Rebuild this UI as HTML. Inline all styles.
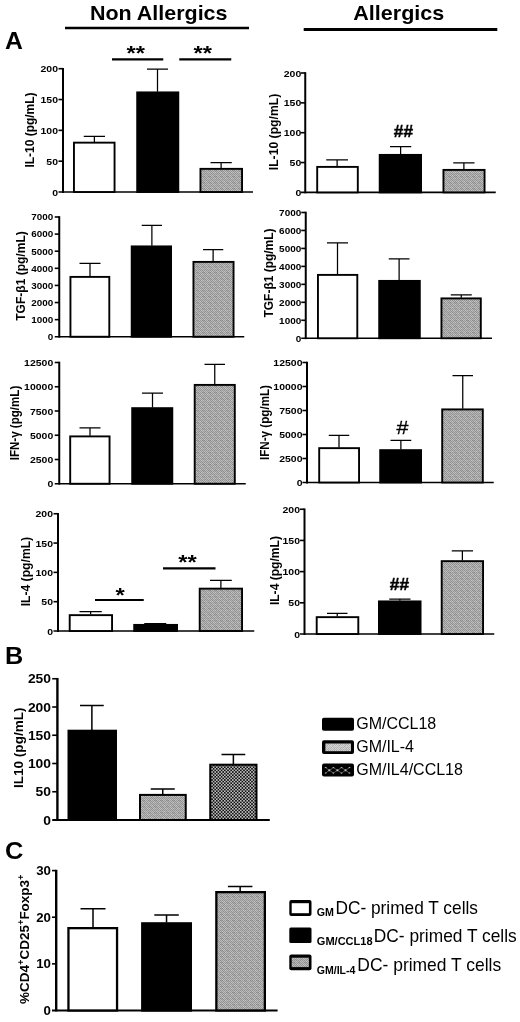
<!DOCTYPE html>
<html lang="en"><head><meta charset="utf-8"><title>Figure</title>
<style>html,body{margin:0;padding:0;background:#fff}body{width:520px;height:1022px;overflow:hidden}svg{display:block}text{font-family:'Liberation Sans', Arial, Helvetica, sans-serif;fill:#000}</style>
</head><body>
<svg width="520" height="1022" viewBox="0 0 520 1022">
<defs>
<pattern id="gr" width="6" height="6" patternUnits="userSpaceOnUse"><rect width="6" height="6" fill="#a8a8a8"/><rect x="0" y="0" width="1" height="1" fill="#939393"/><rect x="1" y="0" width="1" height="1" fill="#bcbcbc"/><rect x="2" y="0" width="1" height="1" fill="#939393"/><rect x="3" y="0" width="1" height="1" fill="#b5b5b5"/><rect x="4" y="0" width="1" height="1" fill="#8d8d8d"/><rect x="5" y="0" width="1" height="1" fill="#b6b6b6"/><rect x="0" y="1" width="1" height="1" fill="#c2c2c2"/><rect x="1" y="1" width="1" height="1" fill="#999999"/><rect x="2" y="1" width="1" height="1" fill="#c1c1c1"/><rect x="3" y="1" width="1" height="1" fill="#989898"/><rect x="4" y="1" width="1" height="1" fill="#bbbbbb"/><rect x="5" y="1" width="1" height="1" fill="#979797"/><rect x="0" y="2" width="1" height="1" fill="#878787"/><rect x="1" y="2" width="1" height="1" fill="#bfbfbf"/><rect x="2" y="2" width="1" height="1" fill="#9a9a9a"/><rect x="3" y="2" width="1" height="1" fill="#bcbcbc"/><rect x="4" y="2" width="1" height="1" fill="#868686"/><rect x="5" y="2" width="1" height="1" fill="#a8a8a8"/><rect x="0" y="3" width="1" height="1" fill="#afafaf"/><rect x="1" y="3" width="1" height="1" fill="#919191"/><rect x="2" y="3" width="1" height="1" fill="#bababa"/><rect x="3" y="3" width="1" height="1" fill="#959595"/><rect x="4" y="3" width="1" height="1" fill="#bcbcbc"/><rect x="5" y="3" width="1" height="1" fill="#909090"/><rect x="0" y="4" width="1" height="1" fill="#989898"/><rect x="1" y="4" width="1" height="1" fill="#bbbbbb"/><rect x="2" y="4" width="1" height="1" fill="#909090"/><rect x="3" y="4" width="1" height="1" fill="#c7c7c7"/><rect x="4" y="4" width="1" height="1" fill="#9b9b9b"/><rect x="5" y="4" width="1" height="1" fill="#c2c2c2"/><rect x="0" y="5" width="1" height="1" fill="#b2b2b2"/><rect x="1" y="5" width="1" height="1" fill="#8f8f8f"/><rect x="2" y="5" width="1" height="1" fill="#b4b4b4"/><rect x="3" y="5" width="1" height="1" fill="#959595"/><rect x="4" y="5" width="1" height="1" fill="#bdbdbd"/><rect x="5" y="5" width="1" height="1" fill="#989898"/></pattern>
<pattern id="gr2" width="6" height="6" patternUnits="userSpaceOnUse"><rect width="6" height="6" fill="#c4c4c4"/><rect x="0" y="0" width="1" height="1" fill="#aaaaaa"/><rect x="1" y="0" width="1" height="1" fill="#d5d5d5"/><rect x="2" y="0" width="1" height="1" fill="#bbbbbb"/><rect x="3" y="0" width="1" height="1" fill="#cdcdcd"/><rect x="4" y="0" width="1" height="1" fill="#a9a9a9"/><rect x="5" y="0" width="1" height="1" fill="#d1d1d1"/><rect x="0" y="1" width="1" height="1" fill="#d5d5d5"/><rect x="1" y="1" width="1" height="1" fill="#bcbcbc"/><rect x="2" y="1" width="1" height="1" fill="#c8c8c8"/><rect x="3" y="1" width="1" height="1" fill="#a9a9a9"/><rect x="4" y="1" width="1" height="1" fill="#d7d7d7"/><rect x="5" y="1" width="1" height="1" fill="#b7b7b7"/><rect x="0" y="2" width="1" height="1" fill="#c0c0c0"/><rect x="1" y="2" width="1" height="1" fill="#d9d9d9"/><rect x="2" y="2" width="1" height="1" fill="#b3b3b3"/><rect x="3" y="2" width="1" height="1" fill="#cfcfcf"/><rect x="4" y="2" width="1" height="1" fill="#c8c8c8"/><rect x="5" y="2" width="1" height="1" fill="#cfcfcf"/><rect x="0" y="3" width="1" height="1" fill="#cbcbcb"/><rect x="1" y="3" width="1" height="1" fill="#aaaaaa"/><rect x="2" y="3" width="1" height="1" fill="#d2d2d2"/><rect x="3" y="3" width="1" height="1" fill="#b5b5b5"/><rect x="4" y="3" width="1" height="1" fill="#cfcfcf"/><rect x="5" y="3" width="1" height="1" fill="#b3b3b3"/><rect x="0" y="4" width="1" height="1" fill="#b6b6b6"/><rect x="1" y="4" width="1" height="1" fill="#d7d7d7"/><rect x="2" y="4" width="1" height="1" fill="#bcbcbc"/><rect x="3" y="4" width="1" height="1" fill="#d3d3d3"/><rect x="4" y="4" width="1" height="1" fill="#a5a5a5"/><rect x="5" y="4" width="1" height="1" fill="#d7d7d7"/><rect x="0" y="5" width="1" height="1" fill="#c6c6c6"/><rect x="1" y="5" width="1" height="1" fill="#b2b2b2"/><rect x="2" y="5" width="1" height="1" fill="#c6c6c6"/><rect x="3" y="5" width="1" height="1" fill="#b4b4b4"/><rect x="4" y="5" width="1" height="1" fill="#cbcbcb"/><rect x="5" y="5" width="1" height="1" fill="#b5b5b5"/></pattern>
<pattern id="ck" width="3.2" height="3.2" patternUnits="userSpaceOnUse"><rect width="3.2" height="3.2" fill="#111"/><rect width="1.6" height="1.6" fill="#bdbdbd"/><rect x="1.6" y="1.6" width="1.6" height="1.6" fill="#bdbdbd"/></pattern>
</defs>
<rect width="520" height="1022" fill="#fff"/>
<text x="90" y="19.7" font-size="20.5" font-weight="bold" textLength="137.5" lengthAdjust="spacingAndGlyphs">Non Allergics</text>
<line x1="65" y1="28" x2="249" y2="28" stroke="#000" stroke-width="2.6"/>
<text x="353.3" y="20.3" font-size="20.5" font-weight="bold" textLength="91" lengthAdjust="spacingAndGlyphs">Allergics</text>
<line x1="303.7" y1="29.5" x2="497.3" y2="29.5" stroke="#000" stroke-width="2.8"/>
<text transform="translate(5.1 49) scale(1.04 1)" font-size="23.8" font-weight="bold">A</text>
<text transform="translate(5.1 664.4) scale(1.06 1)" font-size="23.8" font-weight="bold">B</text>
<text transform="translate(5.1 858.7) scale(1.05 1)" font-size="24.2" font-weight="bold">C</text>
<line x1="63" y1="67.9" x2="63" y2="192.9" stroke="#000" stroke-width="2"/>
<line x1="58.5" y1="192" x2="253" y2="192" stroke="#000" stroke-width="1.6"/>
<text transform="translate(58 195.54) scale(1.06 1)" font-size="9.9" font-weight="bold" text-anchor="end">0</text>
<line x1="58.5" y1="161.18" x2="63" y2="161.18" stroke="#000" stroke-width="1.6"/>
<text transform="translate(58 164.72) scale(1.06 1)" font-size="9.9" font-weight="bold" text-anchor="end">50</text>
<line x1="58.5" y1="130.35" x2="63" y2="130.35" stroke="#000" stroke-width="1.6"/>
<text transform="translate(58 133.89) scale(1.06 1)" font-size="9.9" font-weight="bold" text-anchor="end">100</text>
<line x1="58.5" y1="99.53" x2="63" y2="99.53" stroke="#000" stroke-width="1.6"/>
<text transform="translate(58 103.07) scale(1.06 1)" font-size="9.9" font-weight="bold" text-anchor="end">150</text>
<line x1="58.5" y1="68.7" x2="63" y2="68.7" stroke="#000" stroke-width="1.6"/>
<text transform="translate(58 72.24) scale(1.06 1)" font-size="9.9" font-weight="bold" text-anchor="end">200</text>
<text transform="translate(33.8 130) rotate(-90)" font-size="12" font-weight="bold" text-anchor="middle" textLength="75" lengthAdjust="spacingAndGlyphs">IL-10 (pg/mL)</text>
<path d="M83.75 136.25H105M94.38 136.25V142" stroke="#000" stroke-width="1.25" fill="none"/>
<rect x="73.95" y="142.65" width="40.6" height="49.35" fill="#fff" stroke="#000" stroke-width="1.9"/>
<path d="M147 69H168M157.5 69V91.75" stroke="#000" stroke-width="1.25" fill="none"/>
<rect x="137.2" y="92.4" width="41.1" height="99.6" fill="#000" stroke="#000" stroke-width="1.9"/>
<path d="M210.5 162.5H231.75M221.12 162.5V168.2" stroke="#000" stroke-width="1.25" fill="none"/>
<rect x="200.45" y="168.85" width="41.6" height="23.15" fill="url(#gr)" stroke="#000" stroke-width="1.9"/>
<line x1="112" y1="59.4" x2="163.25" y2="59.4" stroke="#000" stroke-width="2.4"/>
<line x1="179.25" y1="59.4" x2="231.25" y2="59.4" stroke="#000" stroke-width="2.4"/>
<text transform="translate(135.8 60.1) scale(1.13 1)" font-size="21" font-weight="bold" text-anchor="middle">**</text>
<text transform="translate(202.7 60.1) scale(1.13 1)" font-size="21" font-weight="bold" text-anchor="middle">**</text>
<line x1="305.25" y1="72.2" x2="305.25" y2="193.3" stroke="#000" stroke-width="2"/>
<line x1="300.75" y1="192.4" x2="495.75" y2="192.4" stroke="#000" stroke-width="1.6"/>
<text transform="translate(301.25 195.94) scale(1.06 1)" font-size="9.9" font-weight="bold" text-anchor="end">0</text>
<line x1="300.75" y1="162.55" x2="305.25" y2="162.55" stroke="#000" stroke-width="1.6"/>
<text transform="translate(301.25 166.09) scale(1.06 1)" font-size="9.9" font-weight="bold" text-anchor="end">50</text>
<line x1="300.75" y1="132.7" x2="305.25" y2="132.7" stroke="#000" stroke-width="1.6"/>
<text transform="translate(301.25 136.24) scale(1.06 1)" font-size="9.9" font-weight="bold" text-anchor="end">100</text>
<line x1="300.75" y1="102.85" x2="305.25" y2="102.85" stroke="#000" stroke-width="1.6"/>
<text transform="translate(301.25 106.39) scale(1.06 1)" font-size="9.9" font-weight="bold" text-anchor="end">150</text>
<line x1="300.75" y1="73" x2="305.25" y2="73" stroke="#000" stroke-width="1.6"/>
<text transform="translate(301.25 76.54) scale(1.06 1)" font-size="9.9" font-weight="bold" text-anchor="end">200</text>
<text transform="translate(278 132) rotate(-90)" font-size="12" font-weight="bold" text-anchor="middle" textLength="76.5" lengthAdjust="spacingAndGlyphs">IL-10 (pg/mL)</text>
<path d="M326.25 159.75H348M337.12 159.75V166.25" stroke="#000" stroke-width="1.25" fill="none"/>
<rect x="317.2" y="166.9" width="40.6" height="25.5" fill="#fff" stroke="#000" stroke-width="1.9"/>
<path d="M390 146.5H411.25M400.62 146.5V154.25" stroke="#000" stroke-width="1.25" fill="none"/>
<rect x="379.7" y="154.9" width="41.35" height="37.5" fill="#000" stroke="#000" stroke-width="1.9"/>
<path d="M453.25 162.75H474.5M463.88 162.75V169.25" stroke="#000" stroke-width="1.25" fill="none"/>
<rect x="443.45" y="169.9" width="41.1" height="22.5" fill="url(#gr)" stroke="#000" stroke-width="1.9"/>
<text x="403.4" y="136.9" font-size="17.3" font-weight="bold" text-anchor="middle" stroke="#000" stroke-width="0.45">##</text>
<line x1="59.25" y1="216.2" x2="59.25" y2="337.65" stroke="#000" stroke-width="2"/>
<line x1="54.75" y1="336.75" x2="244.25" y2="336.75" stroke="#000" stroke-width="1.6"/>
<text transform="translate(53.25 340.08) scale(1.06 1)" font-size="9.3" font-weight="bold" text-anchor="end">0</text>
<line x1="54.75" y1="319.64" x2="59.25" y2="319.64" stroke="#000" stroke-width="1.6"/>
<text transform="translate(53.25 322.97) scale(1.06 1)" font-size="9.3" font-weight="bold" text-anchor="end">1000</text>
<line x1="54.75" y1="302.54" x2="59.25" y2="302.54" stroke="#000" stroke-width="1.6"/>
<text transform="translate(53.25 305.87) scale(1.06 1)" font-size="9.3" font-weight="bold" text-anchor="end">2000</text>
<line x1="54.75" y1="285.43" x2="59.25" y2="285.43" stroke="#000" stroke-width="1.6"/>
<text transform="translate(53.25 288.76) scale(1.06 1)" font-size="9.3" font-weight="bold" text-anchor="end">3000</text>
<line x1="54.75" y1="268.32" x2="59.25" y2="268.32" stroke="#000" stroke-width="1.6"/>
<text transform="translate(53.25 271.65) scale(1.06 1)" font-size="9.3" font-weight="bold" text-anchor="end">4000</text>
<line x1="54.75" y1="251.21" x2="59.25" y2="251.21" stroke="#000" stroke-width="1.6"/>
<text transform="translate(53.25 254.54) scale(1.06 1)" font-size="9.3" font-weight="bold" text-anchor="end">5000</text>
<line x1="54.75" y1="234.11" x2="59.25" y2="234.11" stroke="#000" stroke-width="1.6"/>
<text transform="translate(53.25 237.44) scale(1.06 1)" font-size="9.3" font-weight="bold" text-anchor="end">6000</text>
<line x1="54.75" y1="217" x2="59.25" y2="217" stroke="#000" stroke-width="1.6"/>
<text transform="translate(53.25 220.33) scale(1.06 1)" font-size="9.3" font-weight="bold" text-anchor="end">7000</text>
<text transform="translate(25.3 276) rotate(-90)" font-size="12" font-weight="bold" text-anchor="middle" textLength="89.5" lengthAdjust="spacingAndGlyphs">TGF-β1 (pg/mL)</text>
<path d="M79.5 263.25H100.5M90 263.25V276.25" stroke="#000" stroke-width="1.25" fill="none"/>
<rect x="70.45" y="276.9" width="38.85" height="59.85" fill="#fff" stroke="#000" stroke-width="1.9"/>
<path d="M141.75 225.25H162M151.88 225.25V245.75" stroke="#000" stroke-width="1.25" fill="none"/>
<rect x="131.7" y="246.4" width="39.35" height="90.35" fill="#000" stroke="#000" stroke-width="1.9"/>
<path d="M203 249.5H223.25M213.12 249.5V261.25" stroke="#000" stroke-width="1.25" fill="none"/>
<rect x="193.45" y="261.9" width="40.1" height="74.85" fill="url(#gr)" stroke="#000" stroke-width="1.9"/>
<line x1="305.75" y1="211.7" x2="305.75" y2="339.15" stroke="#000" stroke-width="2"/>
<line x1="301.25" y1="338.25" x2="492" y2="338.25" stroke="#000" stroke-width="1.6"/>
<text transform="translate(301.25 341.62) scale(1.06 1)" font-size="9.4" font-weight="bold" text-anchor="end">0</text>
<line x1="301.25" y1="320.29" x2="305.75" y2="320.29" stroke="#000" stroke-width="1.6"/>
<text transform="translate(301.25 323.65) scale(1.06 1)" font-size="9.4" font-weight="bold" text-anchor="end">1000</text>
<line x1="301.25" y1="302.32" x2="305.75" y2="302.32" stroke="#000" stroke-width="1.6"/>
<text transform="translate(301.25 305.69) scale(1.06 1)" font-size="9.4" font-weight="bold" text-anchor="end">2000</text>
<line x1="301.25" y1="284.36" x2="305.75" y2="284.36" stroke="#000" stroke-width="1.6"/>
<text transform="translate(301.25 287.72) scale(1.06 1)" font-size="9.4" font-weight="bold" text-anchor="end">3000</text>
<line x1="301.25" y1="266.39" x2="305.75" y2="266.39" stroke="#000" stroke-width="1.6"/>
<text transform="translate(301.25 269.76) scale(1.06 1)" font-size="9.4" font-weight="bold" text-anchor="end">4000</text>
<line x1="301.25" y1="248.43" x2="305.75" y2="248.43" stroke="#000" stroke-width="1.6"/>
<text transform="translate(301.25 251.79) scale(1.06 1)" font-size="9.4" font-weight="bold" text-anchor="end">5000</text>
<line x1="301.25" y1="230.46" x2="305.75" y2="230.46" stroke="#000" stroke-width="1.6"/>
<text transform="translate(301.25 233.83) scale(1.06 1)" font-size="9.4" font-weight="bold" text-anchor="end">6000</text>
<line x1="301.25" y1="212.5" x2="305.75" y2="212.5" stroke="#000" stroke-width="1.6"/>
<text transform="translate(301.25 215.87) scale(1.06 1)" font-size="9.4" font-weight="bold" text-anchor="end">7000</text>
<text transform="translate(272.7 273) rotate(-90)" font-size="12" font-weight="bold" text-anchor="middle" textLength="89" lengthAdjust="spacingAndGlyphs">TGF-β1 (pg/mL)</text>
<path d="M327 242.75H348M337.5 242.75V274.25" stroke="#000" stroke-width="1.25" fill="none"/>
<rect x="317.95" y="274.9" width="39.35" height="63.35" fill="#fff" stroke="#000" stroke-width="1.9"/>
<path d="M388.75 258.75H409.5M399.12 258.75V280.25" stroke="#000" stroke-width="1.25" fill="none"/>
<rect x="379.2" y="280.9" width="40.6" height="57.35" fill="#000" stroke="#000" stroke-width="1.9"/>
<path d="M450.75 294.75H471.75M461.25 294.75V297.75" stroke="#000" stroke-width="1.25" fill="none"/>
<rect x="441.45" y="298.4" width="39.35" height="39.85" fill="url(#gr)" stroke="#000" stroke-width="1.9"/>
<line x1="59.25" y1="361.7" x2="59.25" y2="484.65" stroke="#000" stroke-width="2"/>
<line x1="54.75" y1="483.75" x2="245.75" y2="483.75" stroke="#000" stroke-width="1.6"/>
<text transform="translate(53.25 487.29) scale(1.06 1)" font-size="9.9" font-weight="bold" text-anchor="end">0</text>
<line x1="54.75" y1="459.5" x2="59.25" y2="459.5" stroke="#000" stroke-width="1.6"/>
<text transform="translate(53.25 463.04) scale(1.06 1)" font-size="9.9" font-weight="bold" text-anchor="end">2500</text>
<line x1="54.75" y1="435.25" x2="59.25" y2="435.25" stroke="#000" stroke-width="1.6"/>
<text transform="translate(53.25 438.79) scale(1.06 1)" font-size="9.9" font-weight="bold" text-anchor="end">5000</text>
<line x1="54.75" y1="411" x2="59.25" y2="411" stroke="#000" stroke-width="1.6"/>
<text transform="translate(53.25 414.54) scale(1.06 1)" font-size="9.9" font-weight="bold" text-anchor="end">7500</text>
<line x1="54.75" y1="386.75" x2="59.25" y2="386.75" stroke="#000" stroke-width="1.6"/>
<text transform="translate(53.25 390.29) scale(1.06 1)" font-size="9.9" font-weight="bold" text-anchor="end">10000</text>
<line x1="54.75" y1="362.5" x2="59.25" y2="362.5" stroke="#000" stroke-width="1.6"/>
<text transform="translate(53.25 366.04) scale(1.06 1)" font-size="9.9" font-weight="bold" text-anchor="end">12500</text>
<text transform="translate(18.6 423) rotate(-90)" font-size="12" font-weight="bold" text-anchor="middle" textLength="74.5" lengthAdjust="spacingAndGlyphs">IFN-γ (pg/mL)</text>
<path d="M79.5 427.75H100.5M90 427.75V435.75" stroke="#000" stroke-width="1.25" fill="none"/>
<rect x="70.2" y="436.4" width="39.35" height="47.35" fill="#fff" stroke="#000" stroke-width="1.9"/>
<path d="M142 393H163M152.5 393V407.5" stroke="#000" stroke-width="1.25" fill="none"/>
<rect x="132.2" y="408.15" width="40.1" height="75.6" fill="#000" stroke="#000" stroke-width="1.9"/>
<path d="M204.5 364.25H225M214.75 364.25V384.25" stroke="#000" stroke-width="1.25" fill="none"/>
<rect x="194.7" y="384.9" width="40.1" height="98.85" fill="url(#gr)" stroke="#000" stroke-width="1.9"/>
<line x1="307" y1="361.7" x2="307" y2="483.4" stroke="#000" stroke-width="2"/>
<line x1="302.5" y1="482.5" x2="493.75" y2="482.5" stroke="#000" stroke-width="1.6"/>
<text transform="translate(302.5 486.04) scale(1.06 1)" font-size="9.9" font-weight="bold" text-anchor="end">0</text>
<line x1="302.5" y1="458.5" x2="307" y2="458.5" stroke="#000" stroke-width="1.6"/>
<text transform="translate(302.5 462.04) scale(1.06 1)" font-size="9.9" font-weight="bold" text-anchor="end">2500</text>
<line x1="302.5" y1="434.5" x2="307" y2="434.5" stroke="#000" stroke-width="1.6"/>
<text transform="translate(302.5 438.04) scale(1.06 1)" font-size="9.9" font-weight="bold" text-anchor="end">5000</text>
<line x1="302.5" y1="410.5" x2="307" y2="410.5" stroke="#000" stroke-width="1.6"/>
<text transform="translate(302.5 414.04) scale(1.06 1)" font-size="9.9" font-weight="bold" text-anchor="end">7500</text>
<line x1="302.5" y1="386.5" x2="307" y2="386.5" stroke="#000" stroke-width="1.6"/>
<text transform="translate(302.5 390.04) scale(1.06 1)" font-size="9.9" font-weight="bold" text-anchor="end">10000</text>
<line x1="302.5" y1="362.5" x2="307" y2="362.5" stroke="#000" stroke-width="1.6"/>
<text transform="translate(302.5 366.04) scale(1.06 1)" font-size="9.9" font-weight="bold" text-anchor="end">12500</text>
<text transform="translate(268.9 422.5) rotate(-90)" font-size="12" font-weight="bold" text-anchor="middle" textLength="75" lengthAdjust="spacingAndGlyphs">IFN-γ (pg/mL)</text>
<path d="M328.75 435.25H349.25M339 435.25V447.5" stroke="#000" stroke-width="1.25" fill="none"/>
<rect x="319.2" y="448.15" width="39.85" height="34.35" fill="#fff" stroke="#000" stroke-width="1.9"/>
<path d="M390.5 440.25H411.25M400.88 440.25V449.5" stroke="#000" stroke-width="1.25" fill="none"/>
<rect x="380.2" y="450.15" width="40.85" height="32.35" fill="#000" stroke="#000" stroke-width="1.9"/>
<path d="M452.5 375.5H473M462.75 375.5V408.75" stroke="#000" stroke-width="1.25" fill="none"/>
<rect x="442.2" y="409.4" width="40.6" height="73.1" fill="url(#gr)" stroke="#000" stroke-width="1.9"/>
<text transform="translate(402.5 434.4) scale(1.13 1)" font-size="19" text-anchor="middle" stroke="#000" stroke-width="0.3">#</text>
<line x1="58" y1="512.95" x2="58" y2="631.9" stroke="#000" stroke-width="2"/>
<line x1="53.5" y1="631" x2="254.25" y2="631" stroke="#000" stroke-width="1.6"/>
<text transform="translate(53 634.54) scale(1.06 1)" font-size="9.9" font-weight="bold" text-anchor="end">0</text>
<line x1="53.5" y1="601.69" x2="58" y2="601.69" stroke="#000" stroke-width="1.6"/>
<text transform="translate(53 605.23) scale(1.06 1)" font-size="9.9" font-weight="bold" text-anchor="end">50</text>
<line x1="53.5" y1="572.38" x2="58" y2="572.38" stroke="#000" stroke-width="1.6"/>
<text transform="translate(53 575.92) scale(1.06 1)" font-size="9.9" font-weight="bold" text-anchor="end">100</text>
<line x1="53.5" y1="543.06" x2="58" y2="543.06" stroke="#000" stroke-width="1.6"/>
<text transform="translate(53 546.61) scale(1.06 1)" font-size="9.9" font-weight="bold" text-anchor="end">150</text>
<line x1="53.5" y1="513.75" x2="58" y2="513.75" stroke="#000" stroke-width="1.6"/>
<text transform="translate(53 517.29) scale(1.06 1)" font-size="9.9" font-weight="bold" text-anchor="end">200</text>
<text transform="translate(30.3 571.6) rotate(-90)" font-size="12" font-weight="bold" text-anchor="middle" textLength="69.5" lengthAdjust="spacingAndGlyphs">IL-4 (pg/mL)</text>
<path d="M79.5 611.5H101.75M90.62 611.5V614.5" stroke="#000" stroke-width="1.25" fill="none"/>
<rect x="69.7" y="615.15" width="42.35" height="15.85" fill="#fff" stroke="#000" stroke-width="1.9"/>
<path d="M144.25 623.5H166.25M155.25 623.5V624.25" stroke="#000" stroke-width="1.25" fill="none"/>
<rect x="134.2" y="624.9" width="42.85" height="6.1" fill="#000" stroke="#000" stroke-width="1.9"/>
<path d="M210 580.25H231.75M220.88 580.25V588" stroke="#000" stroke-width="1.25" fill="none"/>
<rect x="199.7" y="588.65" width="42.35" height="42.35" fill="url(#gr)" stroke="#000" stroke-width="1.9"/>
<line x1="95" y1="600" x2="143.75" y2="600" stroke="#000" stroke-width="2.2"/>
<line x1="163" y1="568.3" x2="215.5" y2="568.3" stroke="#000" stroke-width="2.2"/>
<text transform="translate(120 602.4) scale(1.13 1)" font-size="21" font-weight="bold" text-anchor="middle">*</text>
<text transform="translate(187.6 568.5) scale(1.13 1)" font-size="21" font-weight="bold" text-anchor="middle">**</text>
<line x1="304.5" y1="508.45" x2="304.5" y2="634.9" stroke="#000" stroke-width="2"/>
<line x1="300" y1="634" x2="494.25" y2="634" stroke="#000" stroke-width="1.6"/>
<text transform="translate(300 637.54) scale(1.06 1)" font-size="9.9" font-weight="bold" text-anchor="end">0</text>
<line x1="300" y1="602.81" x2="304.5" y2="602.81" stroke="#000" stroke-width="1.6"/>
<text transform="translate(300 606.36) scale(1.06 1)" font-size="9.9" font-weight="bold" text-anchor="end">50</text>
<line x1="300" y1="571.62" x2="304.5" y2="571.62" stroke="#000" stroke-width="1.6"/>
<text transform="translate(300 575.17) scale(1.06 1)" font-size="9.9" font-weight="bold" text-anchor="end">100</text>
<line x1="300" y1="540.44" x2="304.5" y2="540.44" stroke="#000" stroke-width="1.6"/>
<text transform="translate(300 543.98) scale(1.06 1)" font-size="9.9" font-weight="bold" text-anchor="end">150</text>
<line x1="300" y1="509.25" x2="304.5" y2="509.25" stroke="#000" stroke-width="1.6"/>
<text transform="translate(300 512.79) scale(1.06 1)" font-size="9.9" font-weight="bold" text-anchor="end">200</text>
<text transform="translate(278.5 570.6) rotate(-90)" font-size="12" font-weight="bold" text-anchor="middle" textLength="69" lengthAdjust="spacingAndGlyphs">IL-4 (pg/mL)</text>
<path d="M327 613.25H347.5M337.25 613.25V616.5" stroke="#000" stroke-width="1.25" fill="none"/>
<rect x="316.7" y="617.15" width="41.6" height="16.85" fill="#fff" stroke="#000" stroke-width="1.9"/>
<path d="M389.25 599H410.5M399.88 599V600.75" stroke="#000" stroke-width="1.25" fill="none"/>
<rect x="378.95" y="601.4" width="41.6" height="32.6" fill="#000" stroke="#000" stroke-width="1.9"/>
<path d="M451.75 550.75H473M462.38 550.75V560.5" stroke="#000" stroke-width="1.25" fill="none"/>
<rect x="441.7" y="561.15" width="41.35" height="72.85" fill="url(#gr)" stroke="#000" stroke-width="1.9"/>
<text x="399.4" y="590" font-size="17.3" font-weight="bold" text-anchor="middle" stroke="#000" stroke-width="0.45">##</text>
<line x1="57.4" y1="677.95" x2="57.4" y2="820.9" stroke="#000" stroke-width="2.4"/>
<line x1="52.2" y1="820" x2="269.8" y2="820" stroke="#000" stroke-width="1.9"/>
<text transform="translate(51 824.51) scale(1.1 1)" font-size="12.6" font-weight="bold" text-anchor="end">0</text>
<line x1="52.2" y1="791.75" x2="57.4" y2="791.75" stroke="#000" stroke-width="1.6"/>
<text transform="translate(51 796.26) scale(1.1 1)" font-size="12.6" font-weight="bold" text-anchor="end">50</text>
<line x1="52.2" y1="763.5" x2="57.4" y2="763.5" stroke="#000" stroke-width="1.6"/>
<text transform="translate(51 768.01) scale(1.1 1)" font-size="12.6" font-weight="bold" text-anchor="end">100</text>
<line x1="52.2" y1="735.25" x2="57.4" y2="735.25" stroke="#000" stroke-width="1.6"/>
<text transform="translate(51 739.76) scale(1.1 1)" font-size="12.6" font-weight="bold" text-anchor="end">150</text>
<line x1="52.2" y1="707" x2="57.4" y2="707" stroke="#000" stroke-width="1.6"/>
<text transform="translate(51 711.51) scale(1.1 1)" font-size="12.6" font-weight="bold" text-anchor="end">200</text>
<line x1="52.2" y1="678.75" x2="57.4" y2="678.75" stroke="#000" stroke-width="1.6"/>
<text transform="translate(51 683.26) scale(1.1 1)" font-size="12.6" font-weight="bold" text-anchor="end">250</text>
<text transform="translate(22.6 747.75) rotate(-90)" font-size="13.5" font-weight="bold" text-anchor="middle" textLength="80.5" lengthAdjust="spacingAndGlyphs">IL10 (pg/mL)</text>
<path d="M80 705.5H103.75M91.88 705.5V730" stroke="#000" stroke-width="1.5" fill="none"/>
<rect x="68.5" y="730.7" width="47.5" height="89.3" fill="#000" stroke="#000" stroke-width="2"/>
<path d="M150.75 789H174.75M162.75 789V794.2" stroke="#000" stroke-width="1.5" fill="none"/>
<rect x="140" y="794.9" width="45.75" height="25.1" fill="url(#gr)" stroke="#000" stroke-width="2"/>
<path d="M221.5 754.5H245.25M233.38 754.5V764" stroke="#000" stroke-width="1.5" fill="none"/>
<rect x="210.25" y="764.7" width="46.25" height="55.3" fill="url(#ck)" stroke="#000" stroke-width="2"/>
<rect x="322" y="717.8" width="32" height="13" rx="1.8" fill="#000"/>
<rect x="322" y="740.3" width="32" height="13.6" rx="2" fill="#000"/>
<rect x="325.4" y="743.5" width="25.6" height="7.7" fill="url(#gr2)"/>
<rect x="322" y="763.4" width="32" height="13.2" rx="2" fill="#000"/>
<path d="M325.7 767.6L329.3 770.3L333.4 767.6L337.4 770.3L341.5 767.6L345.5 770.3L349.5 767.6M325.7 773L329.3 770.3L333.4 773L337.4 770.3L341.5 773L345.5 770.3L349.5 773" stroke="#777" stroke-width="0.7" fill="none"/>
<rect x="328.40000000000003" y="769.4" width="1.8" height="1.8" fill="#c4c4c4"/>
<rect x="336.5" y="769.4" width="1.8" height="1.8" fill="#c4c4c4"/>
<rect x="344.6" y="769.4" width="1.8" height="1.8" fill="#c4c4c4"/>
<rect x="324.9" y="767" width="1.6" height="1.1" fill="#b0b0b0"/>
<rect x="324.9" y="772.5" width="1.6" height="1.1" fill="#b0b0b0"/>
<rect x="332.59999999999997" y="767" width="1.6" height="1.1" fill="#b0b0b0"/>
<rect x="332.59999999999997" y="772.5" width="1.6" height="1.1" fill="#b0b0b0"/>
<rect x="340.7" y="767" width="1.6" height="1.1" fill="#b0b0b0"/>
<rect x="340.7" y="772.5" width="1.6" height="1.1" fill="#b0b0b0"/>
<rect x="348.7" y="767" width="1.6" height="1.1" fill="#b0b0b0"/>
<rect x="348.7" y="772.5" width="1.6" height="1.1" fill="#b0b0b0"/>
<text x="356.2" y="729.2" font-size="16">GM/CCL18</text>
<text x="356.2" y="752.3" font-size="16">GM/IL-4</text>
<text x="356.2" y="774.8" font-size="16">GM/IL4/CCL18</text>
<line x1="56.2" y1="869.8" x2="56.2" y2="1011.4" stroke="#000" stroke-width="2.4"/>
<line x1="52" y1="1010.5" x2="277.6" y2="1010.5" stroke="#000" stroke-width="1.9"/>
<text transform="translate(51 1014.94) scale(1.07 1)" font-size="12.4" font-weight="bold" text-anchor="end">0</text>
<line x1="52" y1="963.87" x2="56.2" y2="963.87" stroke="#000" stroke-width="1.6"/>
<text transform="translate(51 968.31) scale(1.07 1)" font-size="12.4" font-weight="bold" text-anchor="end">10</text>
<line x1="52" y1="917.23" x2="56.2" y2="917.23" stroke="#000" stroke-width="1.6"/>
<text transform="translate(51 921.67) scale(1.07 1)" font-size="12.4" font-weight="bold" text-anchor="end">20</text>
<line x1="52" y1="870.6" x2="56.2" y2="870.6" stroke="#000" stroke-width="1.6"/>
<text transform="translate(51 875.04) scale(1.07 1)" font-size="12.4" font-weight="bold" text-anchor="end">30</text>
<text transform="translate(28.7 939.2) rotate(-90)" font-size="12.2" font-weight="bold" text-anchor="middle" textLength="129.5" lengthAdjust="spacingAndGlyphs">%CD4<tspan font-size="8.5" dy="-5">+</tspan><tspan dy="5">CD25</tspan><tspan font-size="8.5" dy="-5">+</tspan><tspan dy="5">Foxp3</tspan><tspan font-size="8.5" dy="-5">+</tspan></text>
<path d="M80.5 908.75H105.5M93 908.75V927.3" stroke="#000" stroke-width="1.5" fill="none"/>
<rect x="68.45" y="928.15" width="48.6" height="82.35" fill="#fff" stroke="#000" stroke-width="2.3"/>
<path d="M154.3 915H178.8M166.55 915V922.5" stroke="#000" stroke-width="1.5" fill="none"/>
<rect x="142.25" y="923.35" width="48.6" height="87.15" fill="#000" stroke="#000" stroke-width="2.3"/>
<path d="M227.9 886.4H252.4M240.15 886.4V891.3" stroke="#000" stroke-width="1.5" fill="none"/>
<rect x="216.35" y="892.15" width="48.5" height="118.35" fill="url(#gr)" stroke="#000" stroke-width="2.3"/>
<rect x="289.3" y="900" width="22.2" height="16" rx="2" fill="#000"/>
<rect x="291.7" y="903.2" width="17.2" height="10" fill="#fff"/>
<rect x="289.3" y="927.5" width="22.2" height="15.4" rx="1.5" fill="#000"/>
<rect x="289.3" y="954.6" width="22.2" height="15.7" rx="2" fill="#000"/>
<rect x="291.7" y="957.7" width="17.2" height="9.4" fill="url(#gr)"/>
<text x="316.8" y="915.6" font-size="10.2" font-weight="bold" textLength="17.2" lengthAdjust="spacingAndGlyphs">GM</text>
<text x="335.4" y="913.8" font-size="17.8" textLength="142.6" lengthAdjust="spacingAndGlyphs">DC- primed  T cells</text>
<text x="316.8" y="944.8" font-size="10.2" font-weight="bold" textLength="55.8" lengthAdjust="spacingAndGlyphs">GM/CCL18</text>
<text x="373.8" y="942" font-size="17.8" textLength="142.9" lengthAdjust="spacingAndGlyphs">DC- primed  T cells</text>
<text x="316.8" y="974.3" font-size="10.2" font-weight="bold" textLength="38.6" lengthAdjust="spacingAndGlyphs">GM/IL-4</text>
<text x="357.3" y="970.6" font-size="17.8" textLength="143.9" lengthAdjust="spacingAndGlyphs">DC- primed  T cells</text>
</svg></body></html>
